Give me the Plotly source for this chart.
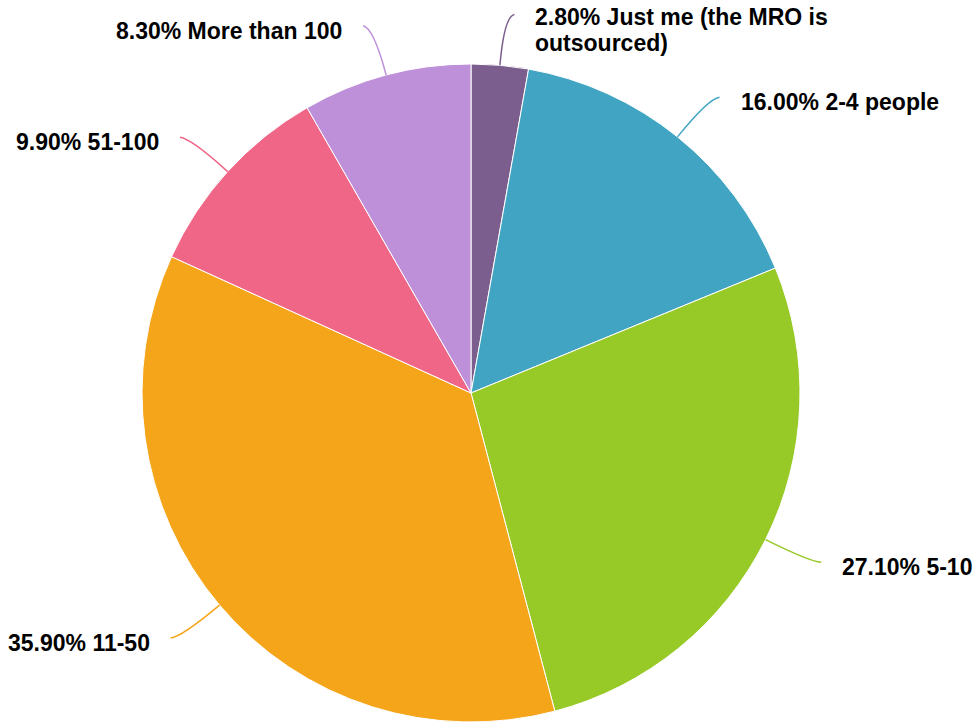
import math
import textwrap
import plotly.graph_objects as go

# ---- data ----
categories = ["Just me (the MRO is outsourced)", "2-4 people", "5-10", "11-50", "51-100", "More than 100"]
shares = [2.8, 16.0, 27.1, 35.9, 9.9, 8.3]
colors = ["#7b5e8d", "#41a4c3", "#97c927", "#f5a51a", "#f06687", "#be90d9"]

# ---- geometry (pixels) ----
W, H = 975, 722
CX, CY, R = 471, 393, 329
R_TICK = 380          # radius where leader line turns horizontal
H_TICK = 10           # horizontal length of leader end
GAP = 20              # gap between leader end and text
FONT_SIZE = 23
LINE_STEP = 26

def px(x):
    return x / W

def py(y):
    return 1 - y / H

fig = go.Figure()
fig.add_trace(go.Pie(
    labels=categories,
    values=shares,
    sort=False,
    direction="clockwise",
    rotation=0,
    marker=dict(colors=colors, line=dict(color="white", width=1)),
    textinfo="none",
    domain=dict(x=[px(CX - R), px(CX + R)], y=[py(CY + R), py(CY - R)]),
    showlegend=False,
))

shapes = []
annotations = []
total = sum(shares)
cum = 0.0
for cat, val, col in zip(categories, shares, colors):
    mid = (cum + val / 2) / total * 2 * math.pi
    cum += val
    s, c = math.sin(mid), math.cos(mid)
    side = 1 if s >= 0 else -1
    x0, y0 = CX + R * s, CY - R * c
    xc, yc = CX + R_TICK * s, CY - R_TICK * c
    x1, y1 = xc + side * H_TICK, yc
    xq, yq = CX + (R_TICK - 2) * s, CY - (R_TICK - 2) * c
    path = (f"M {px(x0)},{py(y0)} Q {px(xq)},{py(yq)} {px(x1)},{py(y1)}")
    shapes.append(dict(type="path", xref="paper", yref="paper", path=path,
                       line=dict(color=col, width=1.5)))
    text = f"{val:.2f}% {cat}"
    lines = textwrap.wrap(text, width=25)
    y_first = y1 + 5 if len(lines) == 1 else y1 + 3
    for i, ln in enumerate(lines):
        annotations.append(dict(
            x=px(x1 + side * GAP), y=py(y_first + i * LINE_STEP),
            xref="paper", yref="paper", showarrow=False,
            xanchor="left" if side > 0 else "right", yanchor="middle",
            text=f"<b>{ln}</b>",
            font=dict(family="Liberation Sans, Arial, sans-serif", size=FONT_SIZE, color="#000000"),
            borderpad=0,
        ))

fig.update_layout(
    width=W, height=H,
    margin=dict(l=0, r=0, t=0, b=0),
    paper_bgcolor="white", plot_bgcolor="white",
    shapes=shapes, annotations=annotations,
    showlegend=False,
)

fig.write_html("out.html",
               config={"displayModeBar": False},
               post_script="document.body.style.margin='0';document.body.style.overflow='hidden';")
